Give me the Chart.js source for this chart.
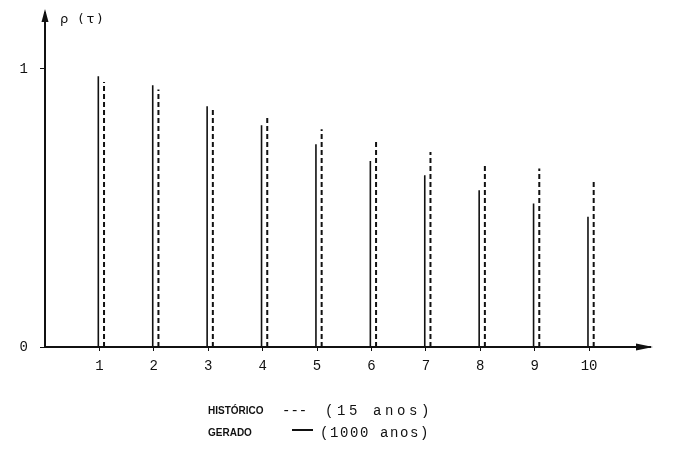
<!DOCTYPE html>
<html><head><meta charset="utf-8">
<script src="https://cdn.jsdelivr.net/npm/chart.js@4"></script>
<style>
html,body{margin:0;padding:0;background:#fff;}
#wrap{position:relative;width:673px;height:468px;overflow:hidden;}
canvas{position:absolute;left:0;top:0;}
.lab{position:absolute;color:#111;white-space:nowrap;line-height:1;}
</style></head><body>
<div id="wrap"><canvas id="c" width="673" height="468"></canvas>
<div class="lab" style="left:60px;top:11px;font:13px 'DejaVu Sans';letter-spacing:3px;">ρ (τ)</div>
<div class="lab" style="left:208px;top:405px;font:bold 10px 'Liberation Sans';">HISTÓRICO</div>
<div class="lab" style="left:282px;top:403px;font:14px 'Liberation Mono';">---</div>
<div class="lab" style="left:325px;top:403px;font:14px 'Liberation Mono';letter-spacing:3.6px;">(15 anos)</div>
<div class="lab" style="left:208px;top:427px;font:bold 10px 'Liberation Sans';">GERADO</div>
<div style="position:absolute;left:292px;top:429px;width:21px;height:1.5px;background:#111;"></div>
<div class="lab" style="left:320px;top:425px;font:14px 'Liberation Mono';letter-spacing:1.6px;">(1000 anos)</div>
</div>
<script>
const lags = [1, 2, 3, 4, 5, 6, 7, 8, 9, 10];
const gerado = [0.974, 0.941, 0.866, 0.797, 0.729, 0.669, 0.618, 0.564, 0.516, 0.468];
const historico = [0.953, 0.926, 0.861, 0.827, 0.783, 0.737, 0.701, 0.654, 0.642, 0.594];
const yTickValues = [0, 1];

function spikes(values, shift) {
  const pts = [];
  lags.forEach((l, i) => {
    pts.push({x: l + shift, y: 0});
    pts.push({x: l + shift, y: values[i]});
    pts.push({x: l + shift, y: null});
  });
  return pts;
}

const arrows = {
  id: 'arrows',
  afterDraw(chart) {
    const {ctx, chartArea: a} = chart;
    ctx.save();
    ctx.fillStyle = '#111';
    ctx.beginPath();
    ctx.moveTo(a.left, a.top - 4);
    ctx.lineTo(a.left - 3.5, a.top + 9);
    ctx.lineTo(a.left + 3.5, a.top + 9);
    ctx.closePath(); ctx.fill();
    ctx.beginPath();
    ctx.moveTo(a.right + 3, a.bottom);
    ctx.lineTo(a.right - 14, a.bottom - 3.5);
    ctx.lineTo(a.right - 14, a.bottom + 3.5);
    ctx.closePath(); ctx.fill();
    ctx.restore();
  }
};

new Chart(document.getElementById('c'), {
  type: 'scatter',
  data: {
    datasets: [
      {label: 'GERADO', data: spikes(gerado, -0.02), showLine: true, spanGaps: false,
       borderColor: '#111', borderWidth: 1.6, pointRadius: 0},
      {label: 'HISTÓRICO', data: spikes(historico, 0.085), showLine: true, spanGaps: false,
       borderColor: '#111', borderWidth: 2, borderDash: [5, 3], pointRadius: 0}
    ]
  },
  options: {
    responsive: false, animation: false,
    layout: {padding: {top: 13, right: 23, bottom: 91, left: 0}},
    plugins: {legend: {display: false}, tooltip: {enabled: false}},
    scales: {
      x: {
        type: 'linear', min: 0, max: 11.12,
        afterBuildTicks: s => { s.ticks = lags.map(v => ({value: v})); },
        afterFit: s => { s.height = 30; s.paddingLeft = 0; s.paddingRight = 0; },
        ticks: {color: '#111', font: {family: 'Liberation Mono', size: 14}, padding: 7,
                callback: v => String(v)},
        grid: {drawOnChartArea: false, drawTicks: true, tickLength: 4, color: '#111'},
        border: {display: true, color: '#111', width: 2}
      },
      y: {
        min: 0, max: 1.201,
        afterBuildTicks: s => { s.ticks = yTickValues.map(v => ({value: v})); },
        afterFit: s => { s.width = 45; s.paddingTop = 0; s.paddingBottom = 0; },
        ticks: {color: '#111', font: {family: 'Liberation Mono', size: 14}, padding: 12,
                callback: v => String(v)},
        grid: {drawOnChartArea: false, drawTicks: true, tickLength: 5, color: '#111'},
        border: {display: true, color: '#111', width: 2}
      }
    }
  },
  plugins: [arrows]
});
</script>
</body></html>
